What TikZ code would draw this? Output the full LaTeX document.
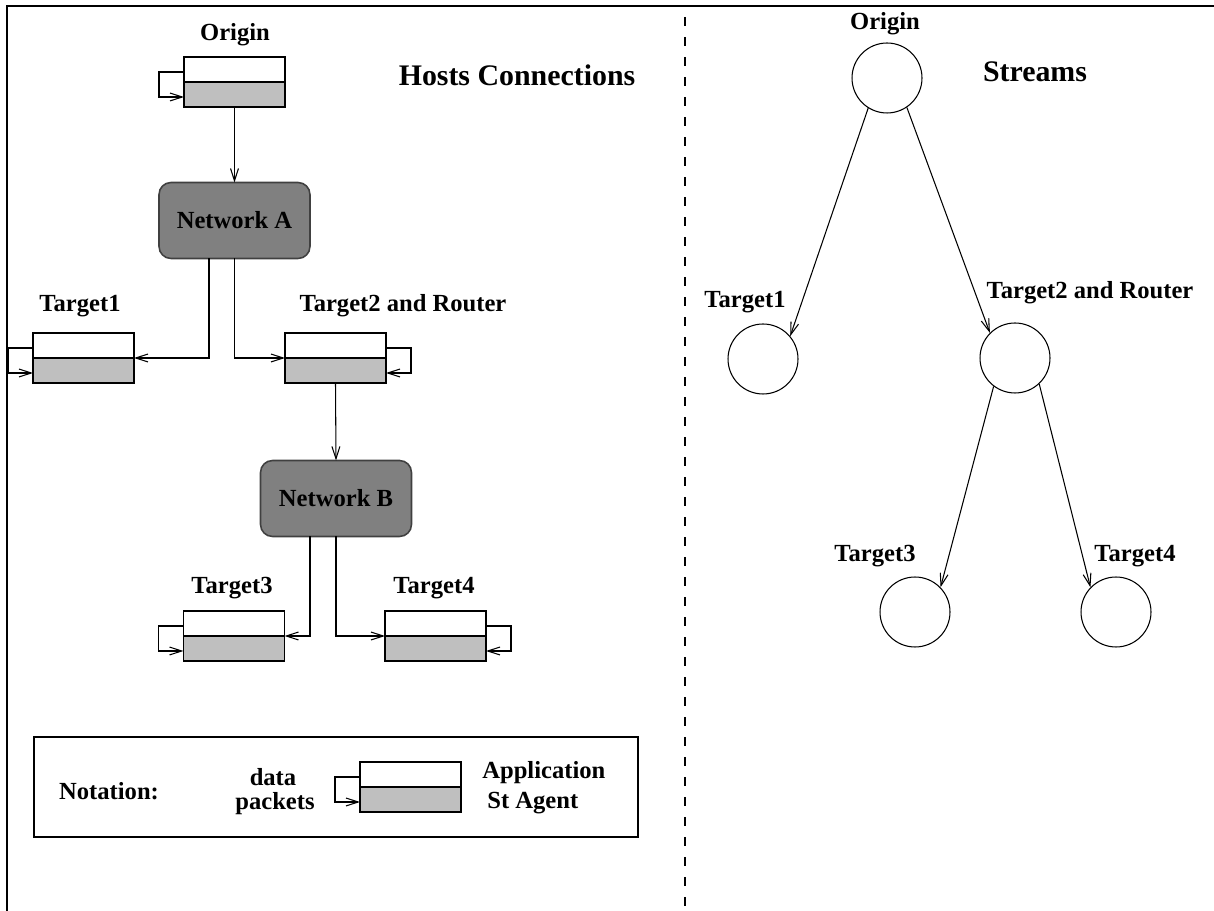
\documentclass[tikz,border=0pt]{standalone}
\usepackage{fontspec}
\setmainfont{Liberation Serif}
\usetikzlibrary{arrows.meta}
\definecolor{agentgray}{gray}{0.75}
\definecolor{netgray}{gray}{0.5}
\definecolor{netedge}{gray}{0.25}
% one host: application layer on top of the ST agent
\newcommand\hostbox[3]{%
  \node[appbox] (#1A) at (#2,#3+12.5) {};
  \node[agentbox, anchor=north] (#1S) at (#1A.south) {};}
% data-packet loop on the left or right side of a host
\newcommand\loopleft[1]{%
  \draw[arr] ([yshift=-0.05cm]#1A.west) -- ++(-25,0) |- ([yshift=-0.05cm]#1S.west);}
\newcommand\loopright[1]{%
  \draw[arr] ([yshift=-0.05cm]#1A.east) -- ++(25,0) |- ([yshift=-0.05cm]#1S.east);}
\begin{document}
\begin{tikzpicture}[x=0.02cm,y=-0.02cm,
  lbl/.style={font=\fontsize{14}{16}\selectfont\bfseries, inner sep=0},
  title/.style={font=\fontsize{17}{20}\selectfont\bfseries, inner sep=0},
  appbox/.style={draw, line width=0.8pt, fill=white, minimum width=2.02cm,
    minimum height=0.5cm, inner sep=0, outer sep=0},
  agentbox/.style={appbox, fill=agentgray},
  net/.style={draw=netedge, fill=netgray, line width=0.9pt, rounded corners=0.24cm,
    minimum width=3.02cm, minimum height=1.52cm, inner sep=0, outer sep=0,
    font=\fontsize{14}{16}\selectfont\bfseries},
  arr/.style={line width=0.6pt, -{Straight Barb[length=7pt,width=4.5pt]}},
  peer/.style={circle, draw, line width=0.6pt, minimum size=1.4cm, inner sep=0},
]
\useasboundingbox (0,0) rectangle (1214,911);

% frame and separator
\draw[line width=1.1pt] (7,911) -- (7,6) -- (1214,6);
\draw[line width=1.1pt, dash pattern=on 0.18cm off 0.22cm] (685,17) -- (685,911);

% ---------- host connections ----------
\node[title] (hc) at (517,75) {Hosts Connections};

\hostbox{o}{234.5}{57}
\node[lbl] (oL) at (235,35) {Origin};
\loopleft{o}

\node[net] (netA) at (234.5,220.5) {Network A};
\draw[arr] (oS.south) -- (netA.north);

\hostbox{ta}{83.5}{333}
\node[lbl] (taL) at (80,306) {Target1};
\loopleft{ta}

\hostbox{tb}{335.5}{333}
\node[lbl] (tbL) at (403,306) {Target2 and Router};
\loopright{tb}

\draw[arr] ([xshift=-0.51cm]netA.south) |- (taA.south east);
\draw[arr] (netA.south) |- (tbA.south west);

\node[net] (netB) at (336,498.5) {Network B};
\draw[arr] (tbS.south) -- (netB.north);

\hostbox{tc}{234}{611}
\node[lbl] (tcL) at (232,588) {Target3};
\loopleft{tc}

\hostbox{td}{435.5}{611}
\node[lbl] (tdL) at (434,588) {Target4};
\loopright{td}

\draw[arr] ([xshift=-0.52cm]netB.south) |- (tcA.south east);
\draw[arr] (netB.south) |- (tdA.south west);

% notation legend
\node[draw, line width=0.9pt, minimum width=12.08cm, minimum height=2cm,
  inner sep=0] (legend) at (336,787) {};
\node[lbl] (nt) at (109,791) {Notation:};
\node[lbl] (nd) at (273,777) {data};
\node[lbl] (np) at (275,804) {packets};
\hostbox{lg}{410.5}{762}
\loopleft{lg}
\node[lbl, anchor=west] (na) at (482,773) {Application};
\node[lbl, anchor=west] (ns) at (487,803) {St Agent};

% ---------- streams ----------
\node[title] (st) at (1035,72) {Streams};

\node[peer] (so) at (887,78) {};
\node[lbl] (soL) at (885,24) {Origin};
\node[peer] (s1) at (763,359) {};
\node[lbl] (s1L) at (745,302) {Target1};
\node[peer] (s2) at (1015,358) {};
\node[lbl] (s2L) at (1090,293) {Target2 and Router};
\node[peer] (s3) at (915,612) {};
\node[lbl] (s3L) at (875,556) {Target3};
\node[peer] (s4) at (1116,612) {};
\node[lbl] (s4L) at (1135,556) {Target4};

\draw[arr] (so.238) -- (s1.40);
\draw[arr] (so.304) -- (s2.135);
\draw[arr] (s2.233) -- (s3.44);
\draw[arr] (s2.313) -- (s4.136);
\end{tikzpicture}
\end{document}
